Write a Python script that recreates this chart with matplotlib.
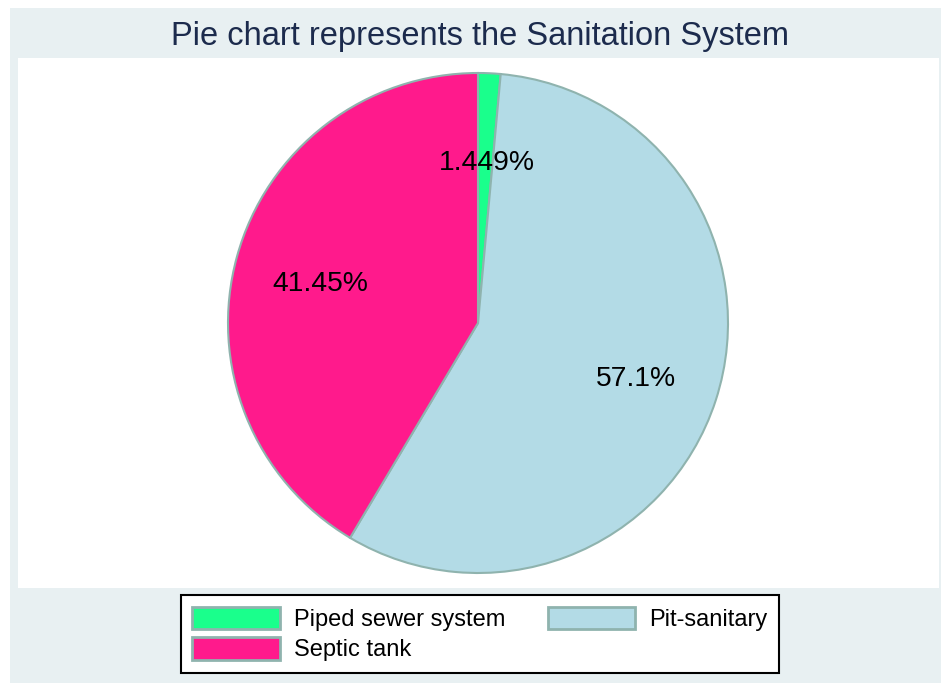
import matplotlib
matplotlib.use("Agg")
import matplotlib.pyplot as plt
from matplotlib.patches import Rectangle
from matplotlib.transforms import offset_copy

plt.rcParams["font.family"] = ["Liberation Sans", "DejaVu Sans"]

# Sanitation system shares (percent)
categories = ["Piped sewer system", "Pit-sanitary", "Septic tank"]
shares = [1.449, 57.1, 41.45]
colors = ["#1aff8c", "#b3dbe6", "#ff1a8c"]
edge = "#8fb3ae"

W, H = 941, 683
fig = plt.figure(figsize=(W / 100, H / 100), dpi=100)
fig.patch.set_facecolor("white")

def fx(px):
    return px / W

def fy(py):
    return 1 - py / H

# outer graph region
fig.patches.append(Rectangle((fx(10), fy(683)), fx(941) - fx(10), fy(8) - fy(683),
                             transform=fig.transFigure, facecolor="#e8f0f2",
                             edgecolor="none", zorder=-2))
# plot region
fig.patches.append(Rectangle((fx(18), fy(588)), fx(939) - fx(18), fy(58) - fy(588),
                             transform=fig.transFigure, facecolor="white",
                             edgecolor="none", zorder=-1))

fig.text(fx(480), fy(36), "Pie chart represents the Sanitation System",
         ha="center", va="center", fontsize=23.5, color="#1c2b4d")

# pie axes: centre (478, 323), radius 250 px
r = 250
ax = fig.add_axes([fx(478 - r), fy(323 + r), 2 * r / W, 2 * r / H])
ax.set_zorder(2)
ax.set_facecolor("none")
wedges, texts, autotexts = ax.pie(
    shares, colors=colors, startangle=90, counterclock=False,
    autopct=lambda p: "", pctdistance=0.66, radius=1,
    wedgeprops=dict(edgecolor=edge, linewidth=1.5),
)
label_tf = offset_copy(ax.transData, fig=fig, x=1, y=-3.5, units="points")
for at, v in zip(autotexts, shares):
    at.set_text(f"{v:.4g}%")
    at.set_fontsize(20.3)
    at.set_color("black")
    at.set_transform(label_tf)
ax.set_xlim(-1, 1)
ax.set_ylim(-1, 1)
ax.set_aspect("equal")
ax.axis("off")

# legend: column-wise fill -> Piped, Septic | Pit
order = [0, 2, 1]
leg = fig.legend([wedges[i] for i in order], [categories[i] for i in order],
                 ncol=2, loc="center", bbox_to_anchor=(fx(480), fy(634)),
                 fontsize=17, frameon=True, fancybox=False, edgecolor="black",
                 framealpha=1, facecolor="white",
                 handlelength=3.7, handleheight=1.1, handletextpad=0.6,
                 columnspacing=1.8, labelspacing=0.25, borderpad=0.5,
                 borderaxespad=0)
leg.set_zorder(3)
leg.get_frame().set_linewidth(1.5)
for h in leg.legend_handles:
    h.set_edgecolor(edge)
    h.set_linewidth(2)

fig.savefig("out.png", dpi=100)
